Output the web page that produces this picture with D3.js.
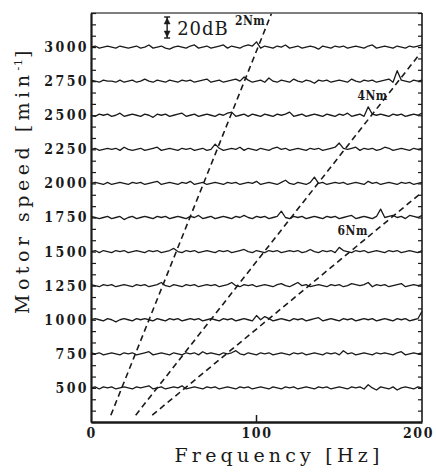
<!DOCTYPE html>
<html>
<head>
<meta charset="utf-8">
<script src="https://cdn.jsdelivr.net/npm/d3@7/dist/d3.min.js"></script>
<style>
	body { margin: 0; background: #fff; }
	text { font-family: "DejaVu Serif", "Liberation Serif", serif; fill: #1a1a1a; }
</style>
</head>
<body>
<div id="wrapper"></div>
<script>

// 1. Data (spectrum level in dB relative to each trace's baseline, 0..200 Hz)

const speeds = [3000, 2750, 2500, 2250, 2000, 1750, 1500, 1250, 1000, 750, 500];

const t3000 = [0, 1,-1, 0, 1, 0,-1, 1, 0,-1,  0, 1,-1, 0, 2,-1, 0, 1,-1,-2,  0, 1, 0,-1, 1, 2,-1, 0, 1,-1,
	0, 1, 2,-1, 1, 0,-1, 1, 2, 1,  5,-1, 1, 0,-1, 1, 0, 2,-1, 0,  1,-1, 0, 1, 0,-2, 1, 0,-1, 1,
	0, 1,-1, 0, 1, 0,-1, 1, 2,-1,  0, 1, 0,-1, 1, 0,-1, 1, 0, 1,  2];
const t2750 = [1, 0,-1, 1, 0, 0,-1, 1,-1, 0,  1,-1, 0, 2, 0,-1, 1, 0,-1, 1,  0,-1, 1, 0, 1,-1, 0, 1, 2,-1,
	0, 1,-1, 0, 1, 2, 0, 4, 1,-1,  0, 1,-1, 3, 0,-1, 1, 0,-1, 2,  0,-1, 1, 0,-2, 1, 0, 1,-1, 0,
	1, 0,-1, 2, 0,-1, 1, 0, 1,-1,  0, 1, 2,-1,10, 1, 0,-1, 1, 0,  1];
const t2500 = [0,-1, 1, 0, 1,-1, 0, 2,-1, 0,  1, 0,-1, 1, 0,-2, 1, 0, 1,-1,  0, 1, 2,-1, 0, 1,-1, 0, 1, 0,
	-1, 1, 0, 2, 3,-1, 0, 1,-1, 1,  0,-1, 1, 0,-1, 1, 0, 1, 3,-1,  0, 1,-1, 0, 1, 0,-1, 1, 0,-1,
	1, 0, 2,-1, 0, 1,-1, 8, 1, 0,  1, 0,-1, 1, 0, 1,-1, 0, 1, 0,  2];
const t2250 = [0, 1,-1, 0, 1, 0, 1,-1, 2, 0,  -1, 0, 1,-1, 0, 1, 2,-1, 0, 1,  0,-1, 1, 0, 1,-1, 0, 1,-1, 0,
	5, 1,-1, 0, 1, 0, 2,-1, 1, 0,  -1, 1, 0,-1, 1, 2, 0, 1,-1, 0,  1, 0,-1, 1, 0, 1,-1, 0, 1, 2,
	6, 1, 0, 1, 2,-1, 1, 0, 1,-1,  0, 2, 1,-1, 0, 1, 0,-1, 1, 0,  1];
const t2000 = [0, 1, 0,-1, 1,-1, 0, 1, 0,-1,  1, 0, 1,-1, 0, 1, 2,-1, 0, 1,  0,-1, 1, 0, 2,-1, 0, 1,-1, 0,
	1, 0,-1, 1, 0, 1,-1, 0, 1, 0,  2,-1, 0, 1, 0,-1, 1, 3, 0,-1,  1, 0,-1, 1, 6, 0, 1,-1, 0, 1,
	0, 1,-1, 0, 1, 0,-1, 2, 0, 1,  -1, 0, 1, 0,-1, 1, 0, 1,-1, 0,  1];
const t1750 = [1, 0,-1, 0, 1,-1, 0, 1,-2, 0,  1,-1, 0, 1, 0,-1, 1, 0, 1,-1,  0, 1, 0,-1, 1, 0, 2,-1, 0, 1,
	-1, 0, 1, 0,-1, 1, 0, 2, 0,-1,  1, 0, 1,-1, 0, 1, 6, 0,-1, 1,  0, 1,-1, 0, 1, 0,-1, 1, 0, 1,
	-1, 0, 1, 2,-1, 0, 1, 0,-1, 1,  8, 0, 1, 2, 0, 1,-1, 2, 1, 0,  2];
const t1500 = [0, 1,-1, 1, 0,-1, 1, 0, 1,-1,  0, 1, 0,-1, 1, 0, 1,-1, 0, 1,  3, 0,-1, 1, 0, 1,-1, 0, 1, 0,
	-1, 1, 0, 1,-1, 0, 1, 2, 0,-1,  1, 0,-1, 1, 0, 1,-1, 0, 1, 0,  1,-1, 0, 2, 0,-1, 1, 0, 1,-1,
	4, 1, 0,-1, 1, 0, 1,-1, 0, 1,  0,-1, 1, 0, 1,-1, 0, 1, 0,-1,  1];
const t1250 = [1, 0,-1, 1, 0, 1,-1, 0, 1, 0,  -1, 1, 0, 1,-1, 0, 1, 3, 0,-1,  1, 0,-1, 1, 0, 1,-1, 0, 1, 0,
	1,-1, 0, 1, 3, 0,-1, 1, 0, 1,  -1, 0, 1, 0,-1, 1, 2, 0,-1, 1,  3, 0, 1,-1, 0, 1, 0,-1, 1, 0,
	1,-1, 0, 2, 1, 0, 1, 3,-1, 1,  0, 1,-1, 0, 1, 2,-1, 0, 1, 0,  1];
const t1000 = [0, 1, 0,-1, 1, 0,-2, 0, 1, 0,  -1, 1, 0, 1, 0,-1, 1, 0,-1, 1,  0, 1,-1, 0, 1, 0, 1,-1, 0, 1,
	0,-1, 1, 0, 1,-1, 0, 1, 0,-1,  4, 0, 3, 1,-1, 0, 1, 0,-1, 1,  0, 1,-1, 0, 1, 2,-1, 0, 1, 0,
	-1, 1, 0, 1,-1, 0, 1, 0, 1,-1,  0, 1, 0,-1, 1, 0, 1,-1, 0, 1,  8];
const t750 = [1, 0, 1,-1, 0, 1, 0,-1, 1, 0,  1,-1, 0, 1, 2,-1, 0, 1, 0,-1,  1, 0,-1, 1, 0, 1,-1, 2, 0, 1,
	0,-1, 1, 0, 1, 3, 0,-1, 1, 0,  -1, 1, 0, 1,-1, 0, 1, 0,-1, 1,  0, 1,-1, 0, 1, 0,-1, 1, 0, 1,
	-1, 3, 0, 1,-1, 0, 1, 0,-1, 1,  0, 1, 0,-1, 1, 2,-1, 0, 1, 0,  1];
const t500 = [0, 1,-1, 1, 0, 1,-1, 0, 1, 0,  -1, 1, 0, 1, 2,-1, 0, 1,-1, 0,  1, 0, 2,-1, 0, 1, 0,-1, 1, 0,
	1,-1, 0, 1, 0,-1, 1, 0, 1,-1,  0, 1, 0,-1, 1, 0,-1, 1, 0, 1,  -1, 0, 1, 0,-1, 1, 0, 1,-1, 0,
	1, 0,-1, 1, 0, 1,-1, 3, 0,-2,  1, 0,-1, 1,-2, 0, 1, 0,-1, 1,  0];

const traces = [t3000, t2750, t2500, t2250, t2000, t1750, t1500, t1250, t1000, t750, t500];

const orderNames = ["2Nm", "4Nm", "6Nm"];
const orderStartHz = [12, 27, 37];
const orderStartRpm = [300, 300, 300];
const orderEndHz = [109, 199, 199];
const orderEndRpm = [3245, 2955, 1925];

const speedTicks = speeds;
const freqTicks = [0, 100, 200];
const scaleBarDb = 20;

function drawChart() {

	// 2. Dimensions

	const width = 436;
	const height = 476;
	const ink = "#1a1a1a";
	const labelFont = "'DejaVu Serif', serif";

	// 3. Canvas

	const svg = d3.select("#wrapper")
		.append("svg")
		.attr("width", width)
		.attr("height", height);

	// 4. Scales

	const x = d3.scaleLinear().domain([0, 200]).range([91, 422]);
	const y = d3.scaleLinear().domain([250, 3250]).range([422, 13]);
	const db = d3.scaleLinear().domain([0, 20]).range([0, 21]);

	// 5. Frame and axes

	svg.append("line")
		.attr("x1", x(0)).attr("x2", x(200)).attr("y1", y(3250)).attr("y2", y(3250))
		.attr("stroke", "#555").attr("stroke-width", 1.5);
	svg.append("line")
		.attr("x1", x(200)).attr("x2", x(200)).attr("y1", y(3250)).attr("y2", y(250))
		.attr("stroke", ink).attr("stroke-width", 1.6);

	const minorTicks = d3.range(0, 37).map(i => 250 + i * 250 / 3);

	const leftMinor = svg.append("g")
		.attr("transform", `translate(${x(0)},0)`)
		.call(d3.axisLeft(y).tickValues(minorTicks).tickSize(-5).tickFormat(""));
	const rightMinor = svg.append("g")
		.attr("transform", `translate(${x(200)},0)`)
		.call(d3.axisRight(y).tickValues(minorTicks).tickSize(-4).tickFormat(""));
	[leftMinor, rightMinor].forEach(g => {
		g.select(".domain").remove();
		g.selectAll("line").attr("stroke", ink).attr("stroke-width", 1.2);
	});

	const leftAxis = svg.append("g")
		.attr("transform", `translate(${x(0)},0)`)
		.call(d3.axisLeft(y).tickValues(speedTicks).tickSize(0).tickPadding(2).tickFormat(d3.format("d")));
	leftAxis.select(".domain").attr("stroke", ink).attr("stroke-width", 2.2);
	leftAxis.selectAll("text")
		.attr("font-size", 14)
		.attr("font-weight", "bold")
		.attr("letter-spacing", 2.4)
		.style("font-family", labelFont)
		.style("font-stretch", "condensed")
		.attr("fill", ink);

	const bottomAxis = svg.append("g")
		.attr("transform", `translate(0,${y(250)})`)
		.call(d3.axisBottom(x).tickValues(freqTicks).tickSize(0).tickPadding(6).tickFormat(d3.format("d")));
	bottomAxis.select(".domain").attr("stroke", ink).attr("stroke-width", 2.6);
	bottomAxis.selectAll("text")
		.attr("font-size", 14)
		.attr("font-weight", "bold")
		.attr("letter-spacing", 1.5)
		.style("font-family", labelFont)
		.style("font-stretch", "condensed")
		.attr("fill", ink)
		.attr("dx", d => d === 200 ? -4 : 0);
	bottomAxis.append("line")
		.attr("x1", x(100)).attr("x2", x(100)).attr("y1", 0).attr("y2", -7)
		.attr("stroke", ink).attr("stroke-width", 1.5);

	// 6. Spectra

	const line = d3.line()
		.x(d => x(d.f))
		.y(d => d.base - db(d.v));

	svg.append("g")
		.selectAll("path")
		.data(traces)
		.join("path")
		.attr("d", (t, k) => line(t.map((v, i) => ({
			f: i * 200 / (t.length - 1),
			v: v,
			base: y(speeds[k])
		}))))
		.attr("fill", "none")
		.attr("stroke", ink)
		.attr("stroke-width", 1.3)
		.attr("stroke-linejoin", "round");

	// 7. Order lines

	svg.append("g")
		.selectAll("line")
		.data(orderNames)
		.join("line")
		.attr("x1", (d, i) => x(orderStartHz[i]))
		.attr("y1", (d, i) => y(orderStartRpm[i]))
		.attr("x2", (d, i) => x(orderEndHz[i]))
		.attr("y2", (d, i) => y(orderEndRpm[i]))
		.attr("stroke", ink)
		.attr("stroke-width", 1.6)
		.attr("stroke-dasharray", "6 4");

	const labelPos = [[87, 3160], [161, 2610], [149, 1620]];
	svg.append("g")
		.selectAll("text")
		.data(orderNames)
		.join("text")
		.attr("x", (d, i) => x(labelPos[i][0]))
		.attr("y", (d, i) => y(labelPos[i][1]))
		.attr("font-size", 12)
		.attr("font-weight", "bold")
		.style("font-stretch", "condensed")
		.attr("letter-spacing", 0.5)
		.text(d => d);

	// 8. 20 dB scale bar

	const barX = x(46);
	const barTop = 17;
	const barBottom = barTop + db(scaleBarDb);
	const bar = svg.append("g").attr("stroke", ink).attr("fill", ink);
	bar.append("line").attr("x1", barX).attr("x2", barX).attr("y1", barTop).attr("y2", barBottom).attr("stroke-width", 1.4);
	bar.append("line").attr("x1", barX - 3).attr("x2", barX + 3).attr("y1", barTop).attr("y2", barTop).attr("stroke-width", 1.4);
	bar.append("line").attr("x1", barX - 3).attr("x2", barX + 3).attr("y1", barBottom).attr("y2", barBottom).attr("stroke-width", 1.4);
	bar.append("path").attr("d", `M${barX},${barTop + 1}l-3,6h6z`).attr("stroke-width", 0.5);
	bar.append("path").attr("d", `M${barX},${barBottom - 1}l-3,-6h6z`).attr("stroke-width", 0.5);

	svg.append("text")
		.attr("x", barX + 10)
		.attr("y", 35)
		.attr("font-size", 18)
		.attr("letter-spacing", 1)
		.text(`${scaleBarDb}dB`);

	// 9. Axis titles

	svg.append("text")
		.attr("x", 279)
		.attr("y", 462)
		.attr("text-anchor", "middle")
		.attr("font-size", 19)
		.attr("letter-spacing", 4.2)
		.text("Frequency [Hz]");

	const yTitle = svg.append("text")
		.attr("transform", "translate(29,180) rotate(-90)")
		.attr("text-anchor", "middle")
		.attr("font-size", 19)
		.attr("letter-spacing", 4.5);
	yTitle.append("tspan").text("Motor speed [min");
	yTitle.append("tspan").attr("dy", -7).attr("font-size", 11).attr("letter-spacing", 1).text("-1");
	yTitle.append("tspan").attr("dy", 7).text("]");
}

drawChart();
</script>
</body>
</html>
